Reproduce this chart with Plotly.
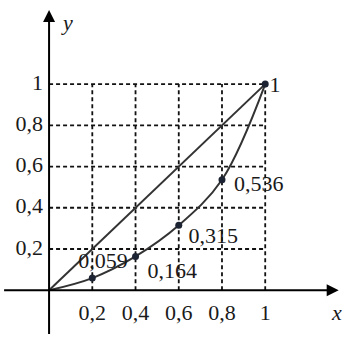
import plotly.graph_objects as go

# Data
x_vals = [0, 0.2, 0.4, 0.6, 0.8, 1]
y_vals = [0, 0.059, 0.164, 0.315, 0.536, 1]
point_labels = ["", "0,059", "0,164", "0,315", "0,536", "1"]
tick_vals = [0.2, 0.4, 0.6, 0.8, 1]
tick_labels = ["0,2", "0,4", "0,6", "0,8", "1"]

# Label placement offsets (data units)
label_dx = [0, 0.05, 0.17, 0.16, 0.17, 0.045]
label_dy = [0, 0.077, -0.077, -0.058, -0.03, -0.012]

FONT = "Liberation Serif, Times New Roman, DejaVu Serif, serif"
FS = 22
INK = "#1a1a1a"

fig = go.Figure()

# grid (dashed) only within [0,1]
for t in tick_vals:
    fig.add_trace(go.Scatter(x=[t, t], y=[0, 1], mode="lines",
                             line=dict(color="#111", width=1.8, dash="4px,3px"),
                             hoverinfo="skip", showlegend=False))
    fig.add_trace(go.Scatter(x=[0, 1], y=[t, t], mode="lines",
                             line=dict(color="#111", width=1.8, dash="4px,3px"),
                             hoverinfo="skip", showlegend=False))

# equality diagonal
fig.add_trace(go.Scatter(x=[x_vals[0], x_vals[-1]], y=[y_vals[0], y_vals[-1]], mode="lines",
                         line=dict(color="#333", width=2), showlegend=False))

# Lorenz curve
fig.add_trace(go.Scatter(x=x_vals, y=y_vals, mode="lines",
                         line=dict(color="#333", width=2, shape="spline", smoothing=1.0),
                         showlegend=False))
fig.add_trace(go.Scatter(x=x_vals[1:], y=y_vals[1:], mode="markers",
                         marker=dict(color="#1c2333", size=7), showlegend=False))

# point labels
fig.add_trace(go.Scatter(
    x=[x + dx for x, dx in zip(x_vals[1:], label_dx[1:])],
    y=[y + dy for y, dy in zip(y_vals[1:], label_dy[1:])],
    mode="text", text=point_labels[1:], textposition="middle center",
    textfont=dict(family=FONT, size=FS, color=INK), showlegend=False))

# tick labels
fig.add_trace(go.Scatter(x=tick_vals, y=[-0.12] * len(tick_vals), mode="text",
                         text=tick_labels, textposition="middle center",
                         textfont=dict(family=FONT, size=FS, color=INK), showlegend=False))
fig.add_trace(go.Scatter(x=[-0.028] * len(tick_vals), y=tick_vals, mode="text",
                         text=tick_labels, textposition="middle left",
                         textfont=dict(family=FONT, size=FS, color=INK), showlegend=False))

# axes arrows
fig.add_annotation(x=1.34, y=0, ax=-0.215, ay=0, xref="x", yref="y", axref="x", ayref="y",
                   showarrow=True, arrowhead=2, arrowsize=1.2, arrowwidth=2, arrowcolor="#000", text="")
fig.add_annotation(x=0, y=1.36, ax=0, ay=-0.22, xref="x", yref="y", axref="x", ayref="y",
                   showarrow=True, arrowhead=2, arrowsize=1.2, arrowwidth=2, arrowcolor="#000", text="")
fig.add_annotation(x=1.33, y=-0.11, text="<i>x</i>", showarrow=False,
                   font=dict(family=FONT, size=FS, color=INK))
fig.add_annotation(x=0.085, y=1.3, text="<i>y</i>", showarrow=False,
                   font=dict(family=FONT, size=FS, color=INK))

fig.update_xaxes(range=[-0.227, 1.42], visible=False)
fig.update_yaxes(range=[-0.29, 1.408], visible=False)
fig.update_layout(width=356, height=350, margin=dict(l=0, r=0, t=0, b=0),
                  plot_bgcolor="white", paper_bgcolor="white")

fig.write_html("out.html")
